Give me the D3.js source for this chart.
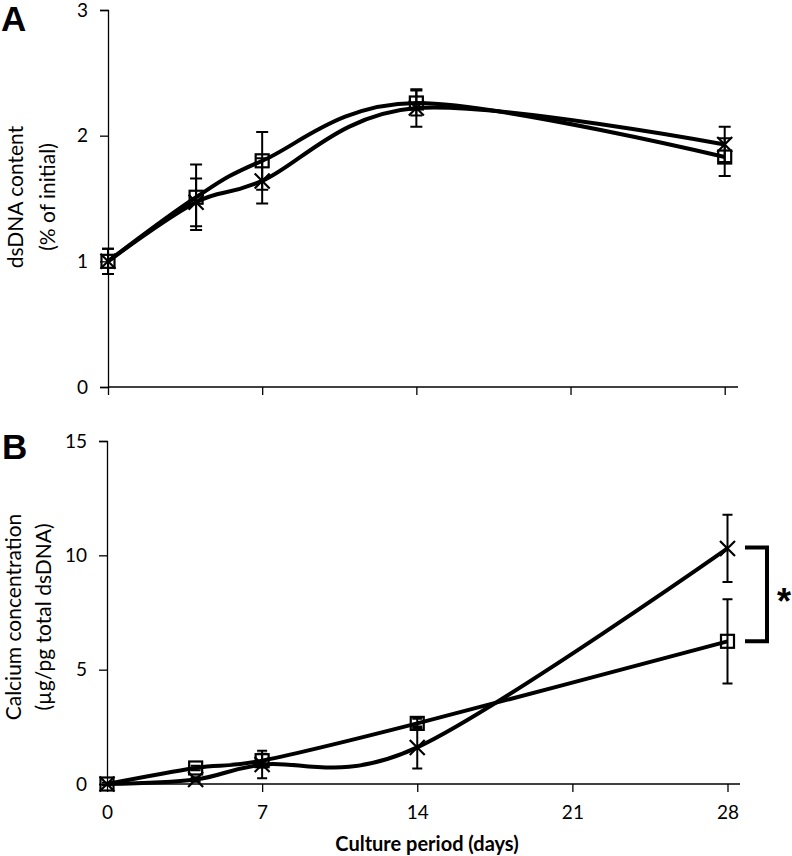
<!DOCTYPE html>
<html><head><meta charset="utf-8">
<script src="https://cdn.jsdelivr.net/npm/d3@7"></script>
<style>body{margin:0;background:#fff}svg{display:block}</style>
</head><body>
<svg id="c" width="792" height="856"></svg>
<script>
// ---- data ----
const days = [0, 4, 7, 14, 28];
const xTicks = [0, 7, 14, 21, 28];
const dnaSquare = [1.00, 1.51, 1.80, 2.26, 1.83];
const dnaSquareErr = [0.10, 0.26, 0.23, 0.10, 0.15];
const dnaCross = [1.00, 1.47, 1.64, 2.22, 1.93];
const dnaCrossErr = [0.10, 0.19, 0.18, 0.15, 0.14];
const caSquare = [0.00, 0.70, 1.02, 2.65, 6.24];
const caSquareErr = [0.05, 0.10, 0.30, 0.20, 1.84];
const caCross = [0.00, 0.20, 0.85, 1.60, 10.30];
const caCrossErr = [0.00, 0.10, 0.60, 0.92, 1.47];
const dnaTicks = [0, 1, 2, 3];
const caTicks = [0, 5, 10, 15];

const svg = d3.select("#c");
const FONT = "Lato, 'Open Sans', sans-serif";

function panel(cfg) {
  const g = svg.append("g");
  const x = d3.scaleLinear().domain([0, 28]).range(cfg.xr);
  const y = d3.scaleLinear().domain(cfg.yd).range(cfg.yr);
  // y axis
  const ya = g.append("g").attr("transform", `translate(${x(0)},0)`)
    .call(d3.axisLeft(y).tickValues(cfg.yTicks).tickSize(8).tickPadding(12).tickFormat(d3.format("d")));
  ya.select(".domain").attr("stroke", "#000").attr("stroke-width", 1.3);
  ya.selectAll(".tick line").attr("stroke", "#000").attr("stroke-width", 1.3);
  ya.selectAll("text").attr("font-family", FONT).attr("font-size", 19).attr("fill", "#000");
  // x axis
  const xa = g.append("g").attr("transform", `translate(0,${y(0)})`)
    .call(d3.axisBottom(x).tickValues(xTicks).tickSize(8).tickPadding(14).tickFormat(cfg.showX ? d3.format("d") : ""));
  xa.select(".domain").attr("d", `M${x(0)},0H${cfg.xEnd}`).attr("stroke", "#000").attr("stroke-width", 1.3);
  xa.selectAll(".tick line").attr("stroke", "#000").attr("stroke-width", 1.3);
  xa.selectAll("text").attr("font-family", FONT).attr("font-size", 19).attr("fill", "#000");

  const line = d3.line().x((d, i) => x(days[i])).y(d => y(d)).curve(d3.curveCardinal.tension(0));
  [cfg.sq, cfg.cr].forEach(arr => {
    g.append("path").attr("d", line(arr)).attr("fill", "none").attr("stroke", "#000").attr("stroke-width", 4);
  });
  // error bars
  [[cfg.sq, cfg.sqErr], [cfg.cr, cfg.crErr]].forEach(([v, e]) => {
    v.forEach((val, i) => {
      if (!e[i]) return;
      const cx = x(days[i]), t = y(val + e[i]), b = y(val - e[i]);
      g.append("path").attr("d", `M${cx},${t}V${b}M${cx - cfg.cap},${t}H${cx + cfg.cap}M${cx - cfg.cap},${b}H${cx + cfg.cap}`)
        .attr("stroke", "#000").attr("stroke-width", 2).attr("fill", "none");
    });
  });
  // markers
  const s = 6.5;
  cfg.sq.forEach((val, i) => {
    g.append("rect").attr("x", x(days[i]) - s).attr("y", y(val) - s).attr("width", 2 * s).attr("height", 2 * s)
      .attr("fill", "none").attr("stroke", "#000").attr("stroke-width", 2.2);
  });
  const c = 7.5;
  cfg.cr.forEach((val, i) => {
    const cx = x(days[i]), cy = y(val);
    g.append("path").attr("d", `M${cx - c},${cy - c}L${cx + c},${cy + c}M${cx - c},${cy + c}L${cx + c},${cy - c}`)
      .attr("stroke", "#000").attr("stroke-width", 2.2).attr("fill", "none");
  });
  return { g, x, y };
}

const A = panel({ xr: [108, 724.7], xEnd: 738, yd: [0, 3], yr: [387, 10], yTicks: dnaTicks,
  sq: dnaSquare, sqErr: dnaSquareErr, cr: dnaCross, crErr: dnaCrossErr, cap: 6, showX: false });
const B = panel({ xr: [107, 727.5], xEnd: 740, yd: [0, 15], yr: [784, 441], yTicks: caTicks,
  sq: caSquare, sqErr: caSquareErr, cr: caCross, crErr: caCrossErr, cap: 5, showX: true });

// axis titles
function ytitle(lines, cy, xs) {
  lines.forEach((t, i) => {
    svg.append("text").attr("transform", `translate(${xs[i]},${cy}) rotate(-90)`)
      .attr("text-anchor", "middle").attr("font-family", FONT).attr("font-size", 21).attr("fill", "#000").text(t);
  });
}
ytitle(["dsDNA content", "(% of initial)"], 197, [23, 55]);
ytitle(["Calcium concentration", "(µg/pg total dsDNA)"], 617, [21, 51]);

svg.append("text").attr("x", 427).attr("y", 851).attr("text-anchor", "middle")
  .attr("font-family", FONT).attr("font-weight", "bold").attr("font-size", 20).attr("fill", "#000")
  .text("Culture period (days)");

// panel labels
svg.append("text").attr("x", 1).attr("y", 31).attr("font-family", "'Liberation Sans', Arial, sans-serif")
  .attr("font-weight", "bold").attr("font-size", 35).text("A");
svg.append("text").attr("x", 2).attr("y", 459).attr("font-family", "'Liberation Sans', Arial, sans-serif")
  .attr("font-weight", "bold").attr("font-size", 35).text("B");

// significance bracket at day 28
const bx = 767, bTop = B.y(caCross[4]) - 1, bBot = B.y(caSquare[4]);
svg.append("path").attr("d", `M745,${bTop}H${bx}V${bBot}H745`).attr("fill", "none")
  .attr("stroke", "#000").attr("stroke-width", 4);
svg.append("text").attr("x", 784).attr("y", (bTop + bBot) / 2 + 20).attr("text-anchor", "middle")
  .attr("font-family", "'Liberation Sans', Arial, sans-serif").attr("font-weight", "bold")
  .attr("font-size", 36).text("*");
</script>
</body></html>
